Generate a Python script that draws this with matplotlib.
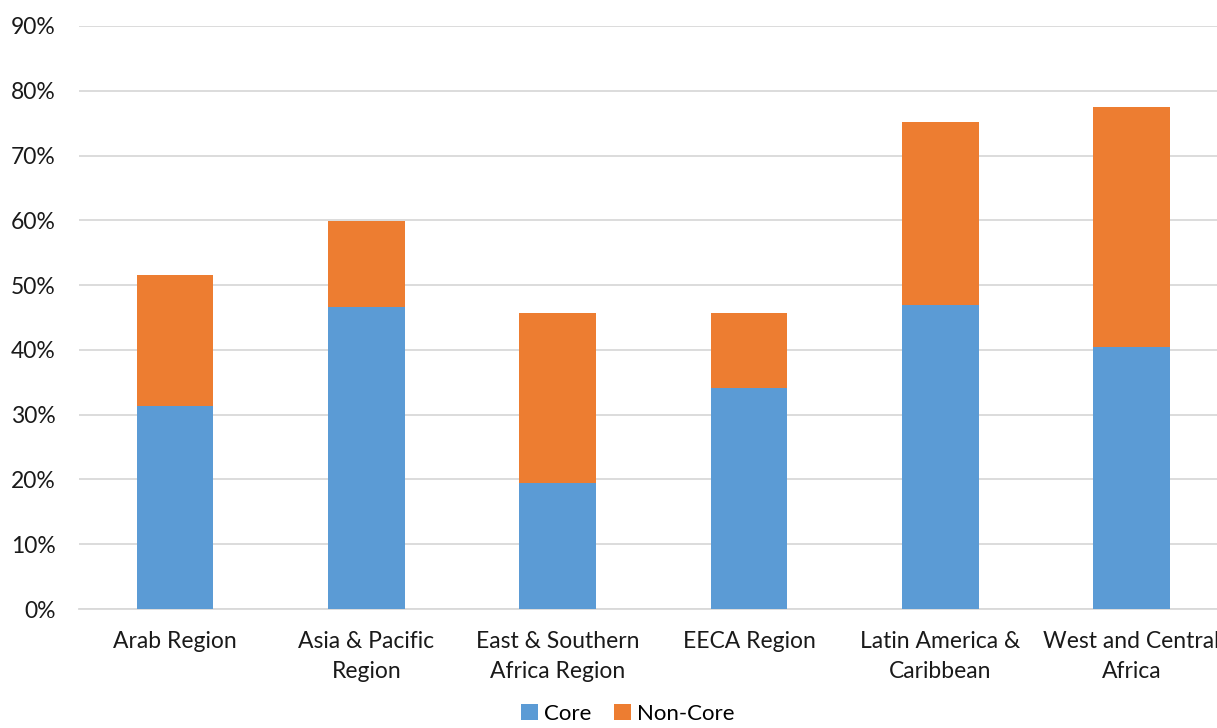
import matplotlib
matplotlib.use("Agg")
import matplotlib.pyplot as plt
from matplotlib.ticker import PercentFormatter
import numpy as np

categories = ["Arab Region", "Asia & Pacific\nRegion", "East & Southern\nAfrica Region",
              "EECA Region", "Latin America &\nCaribbean", "West and Central\nAfrica"]
core = [31.3, 46.6, 19.4, 34.1, 46.9, 40.4]
non_core = [20.2, 13.3, 26.3, 11.6, 28.3, 37.1]

plt.rcParams['font.family'] = ['Lato', 'DejaVu Sans']

fig = plt.figure(figsize=(12.17, 7.28), dpi=100)
ax = fig.add_axes([79.4/1217, 119/728, 1148/1217, 583/728])
x = np.arange(len(categories))
ax.bar(x, core, width=0.4, color="#5B9BD5", label="Core", zorder=3)
ax.bar(x, non_core, width=0.4, bottom=core, color="#ED7D31", label="Non-Core", zorder=3)

ax.set_xlim(-0.5, 5.5)
ax.set_ylim(0, 90)
ax.set_yticks(np.arange(0, 91, 10))
ax.yaxis.set_major_formatter(PercentFormatter(decimals=0))
ax.set_xticks(x)
ax.set_xticklabels(categories, fontsize=16.5, color="#1a1a1a", linespacing=1.5)
ax.tick_params(axis='y', labelsize=16.5, labelcolor="#1a1a1a", length=0, pad=17)
ax.tick_params(axis='x', length=0, pad=16)
ax.grid(axis='y', color="#D9D9D9", linewidth=1.3, zorder=0)
for s in ["top", "right", "left"]:
    ax.spines[s].set_visible(False)
ax.spines["bottom"].set_color("#D9D9D9")
ax.spines["bottom"].set_linewidth(1.3)

fig.legend(loc="center", bbox_to_anchor=(628/1217, 1 - 714/728), ncol=2, frameon=False,
           fontsize=16, handlelength=0.75, handleheight=0.75, columnspacing=1.0, handletextpad=0.3,
           borderpad=0.1)

fig.savefig("out.png", dpi=100)
